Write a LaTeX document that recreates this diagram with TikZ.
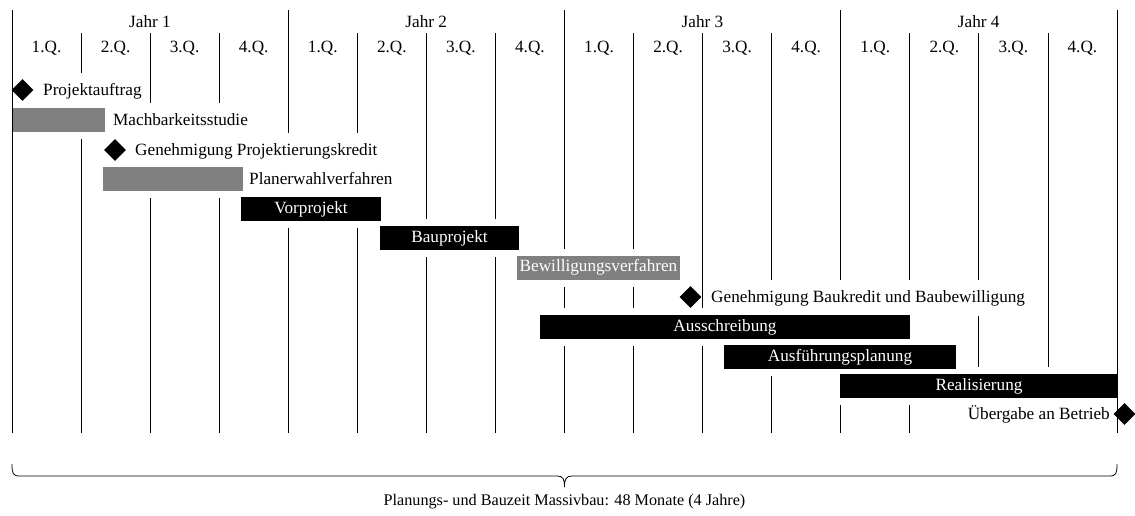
\documentclass[tikz,border=0pt]{standalone}
\usepackage{fontspec}
\setmainfont{Liberation Serif}
\usetikzlibrary{shapes.geometric}
\definecolor{bargray}{HTML}{808080}
\begin{document}
\begin{tikzpicture}[x=1pt,y=-1pt,
  every node/.style={font=\fontsize{17.2}{20}\selectfont},
  grid/.style={line width=0.8pt},
  lbl/.style={fill=white, inner xsep=2pt, inner ysep=0pt, minimum height=36pt,
    text height=12pt, text depth=4pt, anchor=west},
  halo/.style={fill=white, inner sep=0pt, minimum height=38pt},
  bar/.style={inner sep=0pt, minimum height=24pt, text=white,
    text height=12pt, text depth=4pt},
  blackbar/.style={bar, fill=black},
  graybar/.style={bar, fill=bargray},
  ms/.style={diamond, fill=black, inner sep=0pt, minimum width=22pt, minimum height=22pt},
  head/.style={text height=12pt, text depth=4pt, inner sep=0pt},
]
\useasboundingbox (0,0) rectangle (1135,515);

% quarter and year grid lines
\foreach \k in {1,...,15} {
  \pgfmathsetmacro{\xx}{12+69.0625*\k}
  \pgfmathtruncatemacro{\isyear}{mod(\k,4)==0 ? 1 : 0}
  \ifnum\isyear=1
    \draw[grid] (\xx,10) -- (\xx,433);
  \else
    \draw[grid] (\xx,33) -- (\xx,433);
  \fi
}

% header: years and quarters
\foreach \y in {0,...,3} {
  \pgfmathtruncatemacro{\yn}{\y+1}
  \node[head] (jahr\yn) at ({150+276.25*\y},23) {Jahr \yn};
}
\foreach \q in {0,...,15} {
  \pgfmathtruncatemacro{\qn}{mod(\q,4)+1}
  \node[head] (q\q) at ({46.5+69.0625*\q},48) {\qn.Q.};
}

% text labels beside bars and milestones
\node[lbl] (l-pa)  at (41,91)  {Projektauftrag};
\node[lbl] (l-ms)  at (111,121) {Machbarkeitsstudie};
\node[lbl] (l-gpk) at (133,151) {Genehmigung Projektierungskredit};
\node[lbl] (l-pw)  at (247,180) {Planerwahlverfahren};
\node[lbl] (l-gbk) at (709,298) {Genehmigung Baukredit und Baubewilligung};
\node[lbl, anchor=east] (l-ue) at (1112,415) {Übergabe an Betrieb};

% bars: white clearance behind every bar first, then the bars themselves
\foreach \n/\cx/\cy/\w in {ms/58.5/120/93, pw/173/179/140, vp/311/209/140,
    bp/449.5/238/139, bw/598.5/267.5/163, as/725/327/370, ap/840/357/232, re/979/386/278} {
  \node[halo, minimum width=\w pt] (h-\n) at (\cx,\cy) {};
}
\node[graybar, minimum width=93pt]  (b-ms) at (58.5,120) {};
\node[graybar, minimum width=140pt] (b-pw) at (173,179) {};
\node[blackbar, minimum width=140pt] (b-vp) at (311,209) {Vorprojekt};
\node[blackbar, minimum width=139pt] (b-bp) at (449.5,238) {Bauprojekt};
\node[graybar, minimum width=163pt]  (b-bw) at (598.5,267.5) {Bewilligungsverfahren};
\node[blackbar, minimum width=370pt] (b-as) at (725,327) {Ausschreibung};
\node[blackbar, minimum width=232pt] (b-ap) at (840,357) {Ausführungsplanung};
\node[blackbar, minimum width=278pt] (b-re) at (979,386) {Realisierung};

% milestones
\node[ms] (m-pa)  at (22.5,90) {};
\node[ms] (m-gpk) at (115,150) {};
\node[ms] (m-gbk) at (690.5,297) {};
\node[ms] (m-ue)  at (1124.5,414) {};

% outer frame lines
\draw[grid] (12,10) -- (12,433);
\draw[grid] (1117,10) -- (1117,433);

% total duration brace
\coordinate (br-l) at (12,464);
\coordinate (br-m) at (564.5,487);
\coordinate (br-r) at (1117,464);
\draw[line width=0.8pt]
  (br-l) .. controls (12,474) and (13,476) .. (20,476) -- (557,476)
  .. controls (563,476) and (564.5,479) .. (br-m)
  .. controls (564.5,479) and (566,476) .. (572,476) -- (1109,476)
  .. controls (1116,476) and (1117,474) .. (br-r);
\node[font=\fontsize{16.2}{19}\selectfont, head] (total) at (564.5,501)
  {Planungs- und Bauzeit Massivbau: 48 Monate (4 Jahre)};
\end{tikzpicture}
\end{document}
